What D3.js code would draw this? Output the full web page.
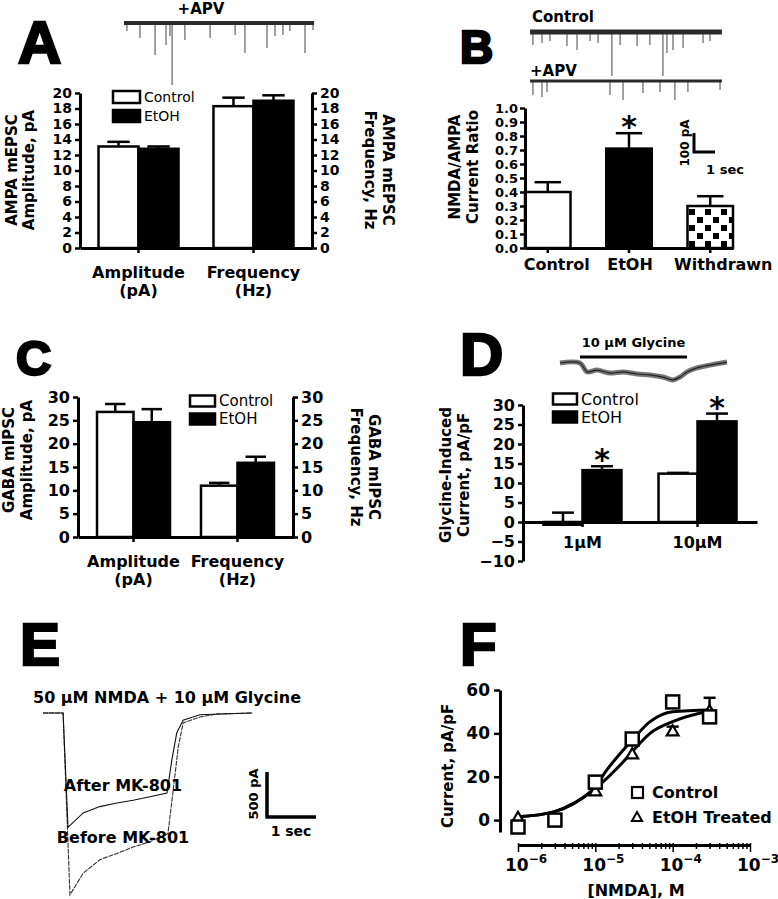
<!DOCTYPE html>
<meta charset="utf-8">
<style>
body { margin: 0; background: #fff; }
svg { display: block; font-family: "DejaVu Sans", Verdana, sans-serif; }
.letter { font-family: "Liberation Sans", Arial, sans-serif; font-weight: bold; fill: #000; stroke: #000; stroke-width: 2.5px; }
.title { font-size: 15px; font-weight: bold; fill: #000; }
.cat { font-size: 16px; font-weight: bold; fill: #000; }
.lbl { font-weight: bold; fill: #000; }
</style>
<body>
<script src="https://d3js.org/d3.v7.min.js"></script>
<script>

// ---------- data ----------
// A: AMPA mEPSCs
var groupsA = ["Amplitude", "Frequency"];
var unitsA = ["(pA)", "(Hz)"];
var seriesA = ["Control", "EtOH"];
var meanA = [[13.1, 12.8], [18.3, 19.0]];
var semA = [[0.6, 0.3], [1.1, 0.7]];
var ticksA = [0, 2, 4, 6, 8, 10, 12, 14, 16, 18, 20];
// A trace (+APV): spike times (s) and amplitudes (pA)
var spikeTimeA = [0.14, 0.76, 1.48, 2.0, 2.19, 2.29, 2.9, 4.1, 5.29, 5.76, 6.81, 7.19, 7.57, 7.9, 8.62, 9.0];
var spikeAmpA = [42, 79, 168, 116, 68, 326, 89, 79, 63, 158, 132, 68, 63, 42, 158, 37];

// B: NMDA/AMPA ratio
var groupsB = ["Control", "EtOH", "Withdrawn"];
var meanB = [0.40, 0.71, 0.30];
var semB = [0.07, 0.11, 0.07];
var starB = [false, true, false];
var ticksB = [0.0, 0.1, 0.2, 0.3, 0.4, 0.5, 0.6, 0.7, 0.8, 0.9, 1.0];
var spikeTimeB1 = [0.14, 0.57, 0.95, 1.76, 2.24, 2.86, 3.24, 3.9, 4.29, 5.1, 5.71, 6.33, 6.52, 6.81, 7.29, 8.24, 8.57];
var spikeAmpB1 = [68, 58, 47, 74, 95, 47, 58, 232, 68, 74, 68, 232, 111, 95, 84, 58, 47];
var spikeTimeB2 = [0.14, 0.57, 0.81, 3.81, 4.43, 5.38, 6.19, 6.9, 7.52, 9.05];
var spikeAmpB2 = [74, 84, 58, 74, 100, 63, 58, 100, 58, 47];

// C: GABA mIPSCs
var groupsC = ["Amplitude", "Frequency"];
var unitsC = ["(pA)", "(Hz)"];
var seriesC = ["Control", "EtOH"];
var meanC = [[26.8, 24.6], [11.0, 15.9]];
var semC = [[1.7, 2.8], [0.6, 1.3]];
var ticksC = [0, 5, 10, 15, 20, 25, 30];

// D: glycine-induced current
var groupsD = ["1µM", "10µM"];
var seriesD = ["Control", "EtOH"];
var meanD = [[-0.7, 13.3], [12.4, 25.8]];
var semD = [[3.1, 1.0], [0.2, 2.0]];
var starD = [[false, true], [false, true]];
var ticksD = [-10, -5, 0, 5, 10, 15, 20, 25, 30];
var timeD = [0, 0.95, 1.29, 1.76, 2.38, 3.0, 3.67, 4.29, 4.9, 5.38, 5.71, 6.05, 6.52, 7.14, 7.95];
var curD = [0, 0, -47, -37, -53, -47, -58, -63, -74, -89, -74, -47, -26, -11, 5];
var glyOn = [0.95, 6.05];

// E: NMDA + glycine currents before / after MK-801
var timeBefore = [0, 0.41, 0.55, 0.82, 1.16, 1.51, 1.84, 2.18, 2.55, 2.65, 2.76, 2.86, 3.2, 3.55, 4.27];
var curBefore = [0, 0, -2020, -1780, -1630, -1560, -1490, -1430, -1340, -890, -380, -110, -45, -10, 0];
var timeAfter = [0, 0.41, 0.51, 0.82, 1.16, 1.51, 1.84, 2.18, 2.53, 2.63, 2.73, 2.86, 3.2, 4.27];
var curAfter = [0, 0, -1270, -1110, -1040, -1000, -970, -930, -890, -520, -220, -80, -20, 0];

// F: NMDA concentration-response
var concF = [1e-6, 3e-6, 1e-5, 3e-5, 1e-4, 3e-4];
var ctrlF = [-3.2, 0.0, 17.5, 37.4, 54.5, 47.6];
var ctrlSemF = [0, 0, 0, 0, 1.5, 0];
var etohF = [0.7, 0.3, 13.0, 30.0, 40.6, 49.9];
var etohSemF = [0, 0, 0, 0, 2.5, 6.5];
var fitConcCtrl = [1e-6, 2.9e-6, 5.2e-6, 1e-5, 1.4e-5, 2.3e-5, 3e-5, 5.1e-5, 1e-4, 3.1e-4];
var fitCtrl = [1.5, 3.8, 7.7, 15.4, 23.0, 32.3, 36.9, 45.4, 50.0, 50.8];
var fitConcEtoh = [1e-6, 2.9e-6, 5.2e-6, 1e-5, 2.3e-5, 3e-5, 5.1e-5, 1e-4, 3.1e-4];
var fitEtoh = [1.5, 3.8, 7.5, 14.6, 26.9, 31.5, 40.0, 45.4, 50.4];
var ticksF = [0, 20, 40, 60];
var decadesF = [-6, -5, -4, -3];

// ---------- drawing ----------
var svg = d3.select("body").append("svg").attr("width", 778).attr("height", 899);
svg.append("rect").attr("width", 778).attr("height", 899).attr("fill", "#fff");

var defs = svg.append("defs");
var pat = defs.append("pattern").attr("id", "checker")
  .attr("patternUnits", "userSpaceOnUse").attr("width", 16).attr("height", 16);
pat.append("rect").attr("width", 16).attr("height", 16).attr("fill", "#fff");
pat.append("rect").attr("x", 1).attr("y", 1).attr("width", 6).attr("height", 6).attr("fill", "#000");
pat.append("rect").attr("x", 9).attr("y", 9).attr("width", 6).attr("height", 6).attr("fill", "#000");

function styleAxis(g, size) {
  g.attr("font-family", "DejaVu Sans").attr("font-size", size || 16).attr("font-weight", "bold");
  g.select(".domain").attr("stroke", "#000").attr("stroke-width", 3);
  g.selectAll(".tick line").attr("stroke", "#000").attr("stroke-width", 2.5);
  g.selectAll(".tick text").attr("fill", "#000");
}

function letter(t, x, y, size) {
  svg.append("text").attr("class", "letter").attr("x", x).attr("y", y)
    .style("font-size", size + "px").text(t);
}

function vtitle(lines, xs, cy, rot, size) {
  lines.forEach(function(s, i) {
    svg.append("text").attr("class", "title")
      .attr("transform", "translate(" + xs[i] + "," + cy + ") rotate(" + rot + ")")
      .attr("text-anchor", "middle").attr("dominant-baseline", "central")
      .style("font-size", (size || 15) + "px").text(s);
  });
}

function legend(o) {
  var fills = ["#fff", "#000"];
  o.names.forEach(function(n, i) {
    svg.append("rect").attr("x", o.x).attr("y", o.ys[i] - o.h / 2)
      .attr("width", o.w).attr("height", o.h)
      .attr("fill", fills[i]).attr("stroke", "#000").attr("stroke-width", 2.5);
    svg.append("text").attr("x", o.x + o.w + 4).attr("y", o.ys[i])
      .attr("dominant-baseline", "central").style("font-size", o.size + "px").text(n);
  });
}

function star(g, x, capY) {
  g.append("text").attr("class", "lbl").attr("text-anchor", "middle")
    .style("font-size", "30px").attr("x", x).attr("y", capY + 4).text("*");
}

function groupedBars(o) {
  var x0 = d3.scaleBand().domain(o.groups).range([o.left, o.right])
    .paddingInner(o.pi).paddingOuter(o.po);
  var x1 = d3.scaleBand().domain(o.series).range([0, x0.bandwidth()]);
  var y = d3.scaleLinear().domain(o.yDomain).range([o.bottom, o.top]);
  var recs = [];
  o.groups.forEach(function(gr, i) {
    o.series.forEach(function(s, j) {
      recs.push({ g: gr, s: s, i: j, v: o.means[i][j], e: o.sems[i][j],
                  star: o.stars ? o.stars[i][j] : false });
    });
  });
  var g = svg.append("g");
  var bw = x1.bandwidth();
  g.selectAll("rect.bar").data(recs).enter().append("rect")
    .attr("x", function(d) { return x0(d.g) + x1(d.s); })
    .attr("width", bw)
    .attr("y", function(d) { return Math.min(y(d.v), y(0)); })
    .attr("height", function(d) { return Math.abs(y(d.v) - y(0)); })
    .attr("fill", function(d) { return d.i === 0 ? "#fff" : "#000"; })
    .attr("stroke", "#000").attr("stroke-width", 2.5);
  var eb = g.selectAll("g.err").data(recs).enter().append("g");
  eb.append("line")
    .attr("x1", function(d) { return x0(d.g) + x1(d.s) + bw / 2; })
    .attr("x2", function(d) { return x0(d.g) + x1(d.s) + bw / 2; })
    .attr("y1", function(d) { return y(d.v); })
    .attr("y2", function(d) { return y(d.v + d.e); })
    .attr("stroke", "#000").attr("stroke-width", 2.5);
  eb.append("line")
    .attr("x1", function(d) { return x0(d.g) + x1(d.s) + bw * 0.22; })
    .attr("x2", function(d) { return x0(d.g) + x1(d.s) + bw * 0.78; })
    .attr("y1", function(d) { return y(d.v + d.e); })
    .attr("y2", function(d) { return y(d.v + d.e); })
    .attr("stroke", "#000").attr("stroke-width", 2.5);
  recs.filter(function(d) { return d.star; }).forEach(function(d) {
    star(g, x0(d.g) + x1(d.s) + bw / 2, y(d.v + d.e));
  });

  var ax = g.append("g").attr("transform", "translate(" + o.left + ",0)")
    .call(d3.axisLeft(y).tickValues(o.ticks).tickSize(5).tickSizeOuter(0).tickPadding(3));
  styleAxis(ax, o.tickFont);
  if (o.rightAxis) {
    var ar = g.append("g").attr("transform", "translate(" + o.right + ",0)")
      .call(d3.axisRight(y).tickValues(o.ticks).tickSize(5).tickSizeOuter(0).tickPadding(3));
    styleAxis(ar, o.tickFont);
  }
  var xb = g.append("g").attr("transform", "translate(0," + y(0) + ")")
    .call(d3.axisBottom(x0).tickSize(5).tickSizeOuter(0).tickFormat(""));
  styleAxis(xb);
  o.catLines.forEach(function(arr, k) {
    g.selectAll(null).data(o.groups).enter().append("text").attr("class", "cat")
      .attr("text-anchor", "middle")
      .attr("x", function(d) { return x0(d) + x0.bandwidth() / 2 + (o.catDx || 0); })
      .attr("y", o.catY[k])
      .text(function(d, i) { return arr[i]; });
  });
}

function spikeTrace(o) {
  var xs = d3.scaleLinear().domain([0, 1]).range([o.x, o.x + 21]);
  var ys = d3.scaleLinear().domain([0, -100]).range([o.y, o.y + 19]);
  var g = svg.append("g");
  g.selectAll("line.sp").data(o.times).enter().append("line")
    .attr("x1", function(d) { return xs(d); }).attr("x2", function(d) { return xs(d); })
    .attr("y1", ys(0)).attr("y2", function(d, i) { return ys(-o.amps[i]); })
    .attr("stroke", "#555").attr("stroke-width", 1.1);
  g.append("line").attr("x1", xs(0)).attr("x2", xs(o.dur)).attr("y1", ys(0)).attr("y2", ys(0))
    .attr("stroke", "#2a2a2a").attr("stroke-width", o.band);
}

// ---- Panel A ----
letter("A", 18, 63, 60);
svg.append("text").attr("class", "lbl").attr("x", 201).attr("y", 14)
  .attr("text-anchor", "middle").style("font-size", "15px").text("+APV");
spikeTrace({ x: 124, y: 23, dur: 9.05, times: spikeTimeA, amps: spikeAmpA, band: 4 });
groupedBars({ groups: groupsA, series: seriesA, means: meanA, sems: semA, ticks: ticksA,
  yDomain: [0, 20], left: 80, right: 312, top: 93, bottom: 248, pi: 0.304, po: 0.161,
  rightAxis: true, tickFont: 14, catLines: [groupsA, unitsA], catY: [278, 296] });
legend({ names: seriesA, x: 113, ys: [97, 116], w: 27, h: 12, size: 14 });
vtitle(["AMPA mEPSC", "Amplitude, pA"], [12, 29], 170, -90);
vtitle(["AMPA mEPSC", "Frequency, Hz"], [388, 370], 170, 90);

// ---- Panel B ----
letter("B", 460, 63, 46);
svg.append("text").attr("class", "lbl").attr("x", 532).attr("y", 22).style("font-size", "15px").text("Control");
svg.append("text").attr("class", "lbl").attr("x", 530).attr("y", 76).style("font-size", "15px").text("+APV");
spikeTrace({ x: 530, y: 32, dur: 9.14, times: spikeTimeB1, amps: spikeAmpB1, band: 5 });
spikeTrace({ x: 530, y: 81, dur: 9.14, times: spikeTimeB2, amps: spikeAmpB2, band: 3 });
(function() {
  var x = d3.scaleBand().domain(groupsB).range([525, 733]).paddingInner(0.44).paddingOuter(0);
  var y = d3.scaleLinear().domain([0, 1]).range([248, 108]);
  var fills = ["#fff", "#000", "url(#checker)"];
  var g = svg.append("g");
  var bw = x.bandwidth();
  g.selectAll("rect").data(groupsB).enter().append("rect")
    .attr("x", function(d) { return x(d); }).attr("width", bw)
    .attr("y", function(d, i) { return y(meanB[i]); })
    .attr("height", function(d, i) { return y(0) - y(meanB[i]); })
    .attr("fill", function(d, i) { return fills[i]; })
    .attr("stroke", "#000").attr("stroke-width", 2.5);
  groupsB.forEach(function(d, i) {
    var cx = x(d) + bw / 2;
    g.append("line").attr("x1", cx).attr("x2", cx).attr("y1", y(meanB[i])).attr("y2", y(meanB[i] + semB[i]))
      .attr("stroke", "#000").attr("stroke-width", 2.5);
    g.append("line").attr("x1", cx - bw * 0.29).attr("x2", cx + bw * 0.29)
      .attr("y1", y(meanB[i] + semB[i])).attr("y2", y(meanB[i] + semB[i]))
      .attr("stroke", "#000").attr("stroke-width", 2.5);
    if (starB[i]) star(g, cx, y(meanB[i] + semB[i]));
  });
  var ax = g.append("g").attr("transform", "translate(525,0)")
    .call(d3.axisLeft(y).tickValues(ticksB).tickSize(5).tickSizeOuter(0).tickPadding(2)
      .tickFormat(d3.format(".1f")));
  styleAxis(ax, 13);
  var xb = g.append("g").attr("transform", "translate(0," + y(0) + ")")
    .call(d3.axisBottom(x).tickSize(5).tickSizeOuter(0).tickPadding(6));
  styleAxis(xb);
  var shift = [9, 1, 13];
  xb.selectAll(".tick text").attr("dx", function(d, i) { return shift[i]; });
  // scale bar: 100 pA, 1 sec
  var sx = 694, sy = 152;
  g.append("path").attr("d", "M" + sx + "," + (sy - 19) + "V" + sy + "H" + (sx + 21))
    .attr("fill", "none").attr("stroke", "#000").attr("stroke-width", 3);
  g.append("text").attr("class", "lbl").style("font-size", "12px")
    .attr("transform", "translate(" + (sx - 5) + "," + (sy - 9) + ") rotate(-90)")
    .attr("text-anchor", "middle").text("100 pA");
  g.append("text").attr("class", "lbl").style("font-size", "13px")
    .attr("x", sx + 31).attr("y", sy + 22).attr("text-anchor", "middle").text("1 sec");
})();
vtitle(["NMDA/AMPA", "Current Ratio"], [455, 473], 167, -90);

// ---- Panel C ----
letter("C", 16, 375, 49);
groupedBars({ groups: groupsC, series: seriesC, means: meanC, sems: semC, ticks: ticksC,
  yDomain: [0, 30], left: 78, right: 293, top: 397, bottom: 537, pi: 0.298, po: 0.183,
  rightAxis: true, catLines: [groupsC, unitsC], catY: [567, 585] });
legend({ names: seriesC, x: 190, ys: [401, 419], w: 25, h: 11, size: 15 });
vtitle(["GABA mIPSC", "Amplitude, pA"], [9, 27], 460, -90);
vtitle(["GABA mIPSC", "Frequency, Hz"], [374, 356], 467, 90);

// ---- Panel D ----
letter("D", 460, 375, 60);
(function() {
  var xs = d3.scaleLinear().domain([0, 1]).range([560, 581]);
  var ys = d3.scaleLinear().domain([0, -100]).range([363, 382]);
  var line = d3.line().x(function(d, i) { return xs(timeD[i]); }).y(function(d) { return ys(d); })
    .curve(d3.curveCatmullRom);
  svg.append("path").datum(curD).attr("d", line).attr("fill", "none")
    .attr("stroke", "#777").attr("stroke-width", 5);
  svg.append("path").datum(curD).attr("d", line).attr("fill", "none")
    .attr("stroke", "#222").attr("stroke-width", 1.2);
  svg.append("line").attr("x1", xs(glyOn[0])).attr("x2", xs(glyOn[1])).attr("y1", 357).attr("y2", 357)
    .attr("stroke", "#000").attr("stroke-width", 3);
  svg.append("text").attr("class", "lbl").style("font-size", "13px").attr("text-anchor", "middle")
    .attr("x", (xs(glyOn[0]) + xs(glyOn[1])) / 2).attr("y", 347).text("10 µM Glycine");
})();
groupedBars({ groups: groupsD, series: seriesD, means: meanD, sems: semD, ticks: ticksD,
  stars: starD, yDomain: [-10, 30], left: 523, right: 757, top: 405, bottom: 561,
  pi: 0.322, po: 0.178, rightAxis: false, catLines: [groupsD], catY: [548] });
legend({ names: seriesD, x: 553, ys: [399, 417], w: 24, h: 11, size: 16 });
vtitle(["Glycine-Induced", "Current, pA/pF"], [446, 464], 475, -90);

// ---- Panel E ----
letter("E", 20, 665, 60);
svg.append("text").attr("class", "lbl").style("font-size", "16px").attr("x", 33).attr("y", 703)
  .text("50 µM NMDA + 10 µM Glycine");
(function() {
  var xs = d3.scaleLinear().domain([0, 1]).range([43, 92]);
  var ys = d3.scaleLinear().domain([0, -500]).range([713, 758]);
  var mk = function(times) {
    return d3.line().x(function(d, i) { return xs(times[i]); }).y(function(d) { return ys(d); });
  };
  svg.append("path").datum(curBefore).attr("d", mk(timeBefore)).attr("fill", "none")
    .attr("stroke", "#333").attr("stroke-width", 1.1).attr("stroke-dasharray", "5,1");
  svg.append("path").datum(curAfter).attr("d", mk(timeAfter)).attr("fill", "none")
    .attr("stroke", "#111").attr("stroke-width", 1.1);
  svg.append("text").attr("class", "lbl").style("font-size", "16px").attr("text-anchor", "middle")
    .attr("x", 123).attr("y", 791).text("After MK-801");
  svg.append("text").attr("class", "lbl").style("font-size", "16px").attr("text-anchor", "middle")
    .attr("x", 123).attr("y", 843).text("Before MK-801");
  // scale bar 500 pA / 1 sec
  var sx = 267, sy = 817;
  svg.append("path")
    .attr("d", "M" + sx + "," + (sy - (ys(-500) - ys(0))) + "V" + sy + "H" + (sx + xs(1) - xs(0)))
    .attr("fill", "none").attr("stroke", "#000").attr("stroke-width", 3.5);
  svg.append("text").attr("class", "lbl").style("font-size", "13px")
    .attr("transform", "translate(" + (sx - 9) + "," + (sy - 23) + ") rotate(-90)")
    .attr("text-anchor", "middle").text("500 pA");
  svg.append("text").attr("class", "lbl").style("font-size", "14px").attr("text-anchor", "middle")
    .attr("x", sx + 24).attr("y", sy + 19).text("1 sec");
})();

// ---- Panel F ----
letter("F", 460, 665, 60);
(function() {
  var x = d3.scaleLog().domain([1e-6, 1e-3]).range([518, 750]);
  var y = d3.scaleLinear().domain([-5.5, 60]).range([832, 690]);
  var g = svg.append("g");
  var ay = g.append("g").attr("transform", "translate(500,0)")
    .call(d3.axisLeft(y).tickValues(ticksF).tickSize(6).tickSizeOuter(0).tickPadding(4));
  styleAxis(ay, 17);
  var allTicks = x.ticks();
  var ax = g.append("g").attr("transform", "translate(0,845)")
    .call(d3.axisBottom(x).tickValues(allTicks).tickSize(4).tickSizeOuter(0).tickFormat(""));
  styleAxis(ax);
  ax.selectAll(".tick line").attr("stroke-width", 1.5)
    .attr("y1", -2)
    .attr("y2", function(d) { return Math.abs(Math.log10(d) % 1) < 1e-9 ? 7 : 4; });
  decadesF.forEach(function(p) {
    var t = g.append("text").attr("class", "lbl").style("font-size", "17px")
      .attr("x", x(Math.pow(10, p)) - 13).attr("y", 871);
    t.append("tspan").text("10");
    t.append("tspan").attr("dy", -8).style("font-size", "12px").text(String(p).replace("-", "−"));
  });
  g.append("text").attr("class", "lbl").style("font-size", "16px").attr("text-anchor", "middle")
    .attr("x", 636).attr("y", 896).text("[NMDA], M");

  var line = d3.line().x(function(d) { return x(d[0]); }).y(function(d) { return y(d[1]); })
    .curve(d3.curveMonotoneX);
  g.append("path").datum(d3.zip(fitConcCtrl, fitCtrl)).attr("d", line)
    .attr("fill", "none").attr("stroke", "#000").attr("stroke-width", 3);
  g.append("path").datum(d3.zip(fitConcEtoh, fitEtoh)).attr("d", line)
    .attr("fill", "none").attr("stroke", "#000").attr("stroke-width", 3);

  function errs(vals, sems) {
    concF.forEach(function(c, i) {
      if (!sems[i]) return;
      var cx = x(c);
      g.append("line").attr("x1", cx).attr("x2", cx).attr("y1", y(vals[i])).attr("y2", y(vals[i] + sems[i]))
        .attr("stroke", "#000").attr("stroke-width", 2.5);
      g.append("line").attr("x1", cx - 6).attr("x2", cx + 6)
        .attr("y1", y(vals[i] + sems[i])).attr("y2", y(vals[i] + sems[i]))
        .attr("stroke", "#000").attr("stroke-width", 2.5);
    });
  }
  errs(ctrlF, ctrlSemF);
  errs(etohF, etohSemF);
  var tri = d3.symbol().type(d3.symbolTriangle).size(60);
  g.selectAll("path.tri").data(etohF).enter().append("path")
    .attr("d", tri)
    .attr("transform", function(d, i) { return "translate(" + x(concF[i]) + "," + y(d) + ")"; })
    .attr("fill", "#fff").attr("stroke", "#000").attr("stroke-width", 2.2);
  g.selectAll("rect.sq").data(ctrlF).enter().append("rect")
    .attr("x", function(d, i) { return x(concF[i]) - 6.5; })
    .attr("y", function(d) { return y(d) - 6.5; })
    .attr("width", 13).attr("height", 13)
    .attr("fill", "#fff").attr("stroke", "#000").attr("stroke-width", 2.5);

  // legend
  g.append("rect").attr("x", 632).attr("y", 787).attr("width", 11).attr("height", 11)
    .attr("fill", "#fff").attr("stroke", "#000").attr("stroke-width", 2.2);
  g.append("text").attr("class", "lbl").style("font-size", "16px").attr("x", 652).attr("y", 798).text("Control");
  g.append("path").attr("d", d3.symbol().type(d3.symbolTriangle).size(45))
    .attr("transform", "translate(637,818)")
    .attr("fill", "#fff").attr("stroke", "#000").attr("stroke-width", 2);
  g.append("text").attr("class", "lbl").style("font-size", "16px").attr("x", 652).attr("y", 823).text("EtOH Treated");
})();
vtitle(["Current, pA/pF"], [448], 766, -90, 15);

</script>
</body>
